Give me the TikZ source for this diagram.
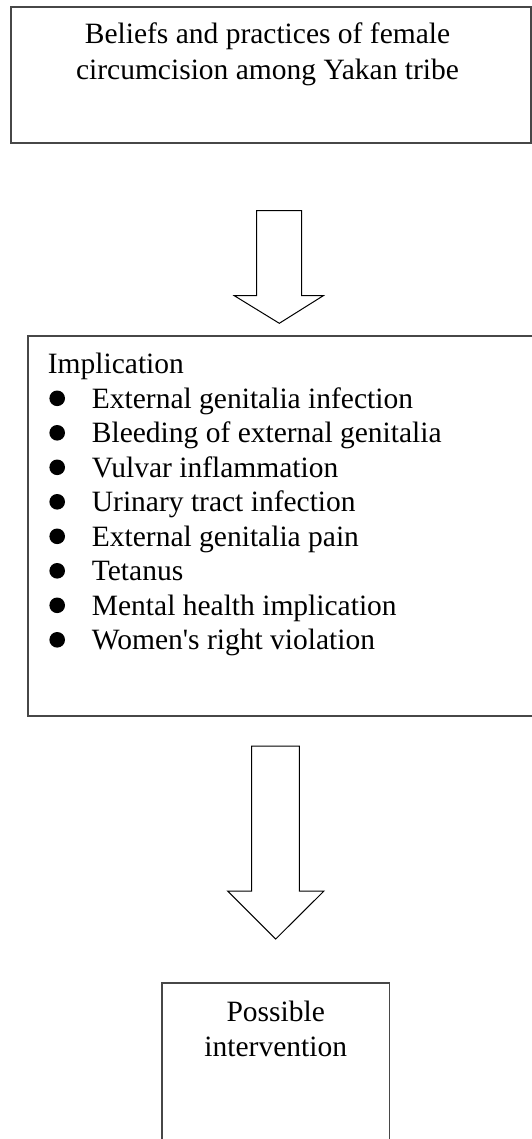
\documentclass[tikz,border=0pt]{standalone}
\usepackage{fontspec}
\setmainfont{Liberation Serif}[Ligatures=TeXOff]
\begin{document}
\begin{tikzpicture}[x=1pt,y=-1pt,
  boxline/.style={draw=black!72,line width=1.2pt},
  blockarrow/.style={draw=black,line width=1pt,fill=white,line join=miter},
  txt/.style={inner sep=0pt,font=\fontsize{29.5}{35}\selectfont},
  bul/.style={fill=black,draw=none,circle,inner sep=0pt,minimum size=15.6pt}]
\useasboundingbox (0,0) rectangle (532,1139);
\clip (0,0) rectangle (532,1139);
% boxes
\draw[boxline] (11,7) rectangle (531,143);
\draw[boxline] (28,336) rectangle (560,716);
\draw[boxline] (162,983) rectangle (389.5,1170);
% box 1 text
\node[txt,anchor=base] (t1a) at (267.5,44) {Beliefs and practices of female};
\node[txt,anchor=base] (t1b) at (267.5,80) {circumcision among Yakan tribe};
% arrow 1
\draw[blockarrow] (256.7,210.7) -- (301.7,210.7) -- (301.7,295.7) -- (323.3,295.7)
  -- (279.3,323.3) -- (234.3,295.7) -- (256.7,295.7) -- cycle;
% box 2 text
\node[txt,anchor=base west] (imp) at (47.7,373.3) {Implication};
\foreach \i/\t in {0/External genitalia infection,1/Bleeding of external genitalia,
  2/Vulvar inflammation,3/Urinary tract infection,4/External genitalia pain,
  5/Tetanus,6/Mental health implication,7/Women's right violation}{
  \node[bul] (bu\i) at (57.2,{398.3+34.5*\i}) {};
  \node[txt,anchor=base west] (it\i) at (91.7,{408.3+34.5*\i}) {\t};
}
% arrow 2
\draw[blockarrow] (251.7,746) -- (299.3,746) -- (299.3,891) -- (324,891)
  -- (275.7,939) -- (227.7,891) -- (251.7,891) -- cycle;
% box 3 text
\node[txt,anchor=base] (t3a) at (275.7,1021) {Possible};
\node[txt,anchor=base] (t3b) at (275.7,1056) {intervention};
\end{tikzpicture}
\end{document}
